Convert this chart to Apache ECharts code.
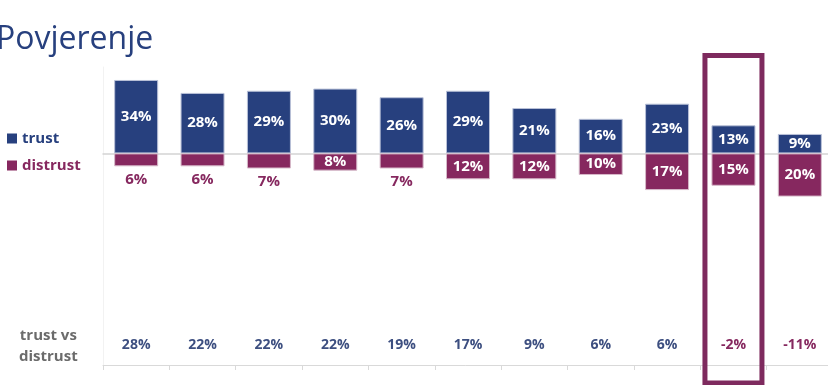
<!DOCTYPE html>
<html><head><meta charset="utf-8">
<script src="https://cdn.jsdelivr.net/npm/echarts@6/dist/echarts.min.js"></script>
<style>html,body{margin:0;padding:0;background:#fff}#c{width:828px;height:385px}</style>
</head><body><div id="c"></div>
<script>
const categories = ['1','2','3','4','5','6','7','8','9','10','11'];
const trust = [34, 28, 29, 30, 26, 29, 21, 16, 23, 13, 9];
const distrust = [6, 6, 7, 8, 7, 12, 12, 10, 17, 15, 20];
const diffLabels = ['28%','22%','22%','22%','19%','17%','9%','6%','6%','-2%','-11%'];
const highlightIndex = 9;

const BLUE = '#27407e', PURPLE = '#86285f', GREY = '#6b6b6b';
const FONT = '"Open Sans", "Noto Sans", sans-serif';

const chart = echarts.init(document.getElementById('c'), null, {renderer: 'canvas'});
const distrustData = distrust.map(v => ({
  value: -v,
  label: v < 8 ? {position: 'bottom', color: PURPLE, distance: 6} : {position: 'inside', color: '#fff'}
}));
chart.setOption({
  animation: false,
  backgroundColor: '#fff',
  title: {text: 'Povjerenje', left: -9, top: 19, textStyle: {color: BLUE, fontSize: 32, fontWeight: 'normal', fontFamily: FONT}},
  legend: {
    orient: 'vertical', left: 7, top: 131, padding: 0, itemWidth: 10, itemHeight: 10, itemGap: 12,
    icon: 'rect',
    itemStyle: {borderWidth: 0},
    data: [
      {name: 'trust', textStyle: {color: BLUE}},
      {name: 'distrust', textStyle: {color: PURPLE}}
    ],
    textStyle: {fontSize: 15, fontWeight: 'bold', fontFamily: FONT}
  },
  grid: {left: 103, right: -5, top: 67, bottom: 20, outerBoundsMode: 'none', containLabel: false},
  xAxis: [
    {type: 'category', data: categories, position: 'bottom',
     axisLine: {onZero: false, lineStyle: {color: '#d9d9d9', width: 1}},
     axisTick: {show: true, length: 5, lineStyle: {color: '#d9d9d9'}},
     axisLabel: {
       margin: -27,
       formatter: (v, i) => diffLabels[i],
       color: (v, i) => diffLabels[i].startsWith('-') ? PURPLE : '#3d4f80',
       fontSize: 14, fontWeight: 'bold', fontFamily: FONT
     }},
    {type: 'category', data: categories, position: 'top',
     axisLine: {onZero: true, lineStyle: {color: '#d4d4d4', width: 1.5}},
     axisTick: {show: false}, axisLabel: {show: false}}
  ],
  yAxis: {type: 'value', min: -98, max: 40, show: true,
    axisLine: {show: true, lineStyle: {color: '#f2f2f2'}}, axisTick: {show: false},
    axisLabel: {show: false}, splitLine: {show: false}},
  series: [
    {name: 'trust', type: 'bar', stack: 's', barWidth: 44, data: trust,
     itemStyle: {color: BLUE, borderColor: '#b9c1d8', borderWidth: 1},
     label: {show: true, position: 'inside', color: '#fff', fontSize: 15, fontWeight: 'bold', fontFamily: FONT, formatter: p => p.value + '%'}},
    {name: 'distrust', type: 'bar', stack: 's', barWidth: 44, data: distrustData,
     itemStyle: {color: PURPLE, borderColor: '#d6b9c9', borderWidth: 1},
     label: {show: true, fontSize: 15, fontWeight: 'bold', fontFamily: FONT, formatter: p => Math.abs(p.value) + '%'}}
  ]
});

const cx = chart.convertToPixel({xAxisIndex: 0}, categories[highlightIndex]);
chart.setOption({
  graphic: [
    {type: 'rect', shape: {x: cx - 28.5, y: 55.5, width: 57, height: 327.5},
     style: {fill: 'none', stroke: '#7e2a5e', lineWidth: 5}, z: 100},
    {type: 'text', left: 19, top: 325, style: {text: 'trust vs\ndistrust', fill: GREY, font: 'bold 15px ' + FONT, textAlign: 'center', lineHeight: 21}, z: 100}
  ]
});
</script></body></html>
